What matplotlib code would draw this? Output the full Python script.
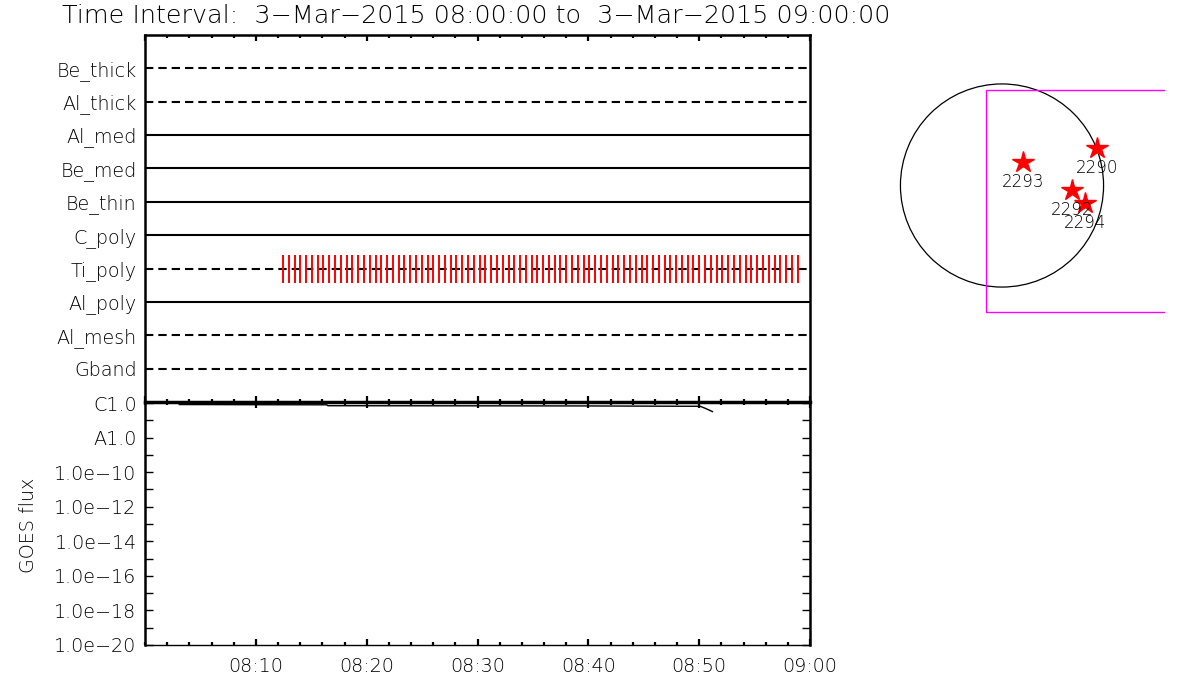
import matplotlib
matplotlib.use("Agg")
import matplotlib.pyplot as plt
from matplotlib.ticker import FixedLocator, MultipleLocator, NullFormatter
from matplotlib.patches import Circle, Rectangle

plt.rcParams['font.family'] = ['DejaVu Sans']
plt.rcParams['lines.scale_dashes'] = False

# ---------------- data ----------------
title = "Time Interval:  3\u2212Mar\u22122015 08:00:00 to  3\u2212Mar\u22122015 09:00:00"

detectors = ["Gband", "Al_mesh", "Al_poly", "Ti_poly", "C_poly",
             "Be_thin", "Be_med", "Al_med", "Al_thick", "Be_thick"]
dashed = [True, True, False, True, False, False, False, False, True, True]

# Ti_poly exposure times (seconds after 08:00)
ti_poly_times_s = [747, 778, 810, 841, 872, 904, 935, 966, 997, 1029,
                   1060, 1091, 1123, 1154, 1185, 1217, 1248, 1279, 1310, 1342,
                   1373, 1404, 1436, 1467, 1498, 1530, 1561, 1592, 1623, 1655,
                   1686, 1717, 1749, 1780, 1811, 1843, 1874, 1905, 1936, 1968,
                   1999, 2030, 2062, 2093, 2124, 2156, 2187, 2218, 2249, 2281,
                   2312, 2343, 2375, 2406, 2437, 2469, 2500, 2531, 2562, 2594,
                   2625, 2656, 2688, 2719, 2750, 2782, 2813, 2844, 2875, 2907,
                   2938, 2969, 3001, 3032, 3063, 3095, 3126, 3157, 3188, 3220,
                   3251, 3282, 3314, 3345, 3376, 3408, 3439, 3470, 3501, 3533]

goes_t_min = [0.0, 3.0, 3.1, 10.0, 16.4, 16.5, 30.0, 40.0, 46.0, 50.1, 50.6, 51.2]
goes_flux = [1.05e-6, 1.05e-6, 8.2e-7, 8.0e-7, 7.9e-7, 7.0e-7, 6.9e-7, 6.8e-7,
             6.6e-7, 6.5e-7, 4.8e-7, 3.2e-7]

goes_ticks = [1e-6, 1e-8, 1e-10, 1e-12, 1e-14, 1e-16, 1e-18, 1e-20]
goes_ticklabels = ["C1.0", "A1.0", "1.0e\u221210", "1.0e\u221212", "1.0e\u221214",
                   "1.0e\u221216", "1.0e\u221218", "1.0e\u221220"]
goes_minor = [1e-7, 1e-9, 1e-11, 1e-13, 1e-15, 1e-17, 1e-19]

time_ticks = [10, 20, 30, 40, 50, 60]
time_labels = ["08:10", "08:20", "08:30", "08:40", "08:50", "09:00"]

# active regions (arcsec)
ar_names = ["2290", "2293", "2292", "2294"]
ar_x = [912, 202, 672, 797]
ar_y = [360, 226, -43, -168]
sun_radius = 975
fov_x0, fov_y0, fov_y1 = -154, -1214, 917

# ---------------- figure ----------------
W, H = 1200, 700
fig = plt.figure(figsize=(12, 7), dpi=100)

def px_axes(x0, y0, x1, y1):
    return fig.add_axes([x0 / W, 1 - y1 / H, (x1 - x0) / W, (y1 - y0) / H])

fs = 13.8
fw = 'light'

fig.text(62 / W, 1 - 16 / H, title, fontsize=18.3, ha='left', va='center',
         fontweight=fw, color='black')

# upper panel
ax1 = px_axes(145, 35, 810, 402)
ax1.set_xlim(0, 60)
ax1.set_ylim(0, 11)
for i, (name, d) in enumerate(zip(detectors, dashed)):
    y = i + 1
    if d:
        ax1.plot([0, 60], [y, y], color='black', lw=1.5, dashes=(6, 3.6))
    else:
        ax1.plot([0, 60], [y, y], color='black', lw=1.5)
ti_y = detectors.index("Ti_poly") + 1
ax1.vlines([t / 60 for t in ti_poly_times_s], ti_y - 0.42, ti_y + 0.42,
           color='red', lw=1.4)
ax1.set_yticks(range(1, len(detectors) + 1))
ax1.set_yticklabels(detectors, fontsize=fs, fontweight=fw)
ax1.tick_params(axis='y', length=0, pad=6)
ax1.xaxis.set_major_locator(MultipleLocator(10))
ax1.xaxis.set_minor_locator(MultipleLocator(2))
ax1.tick_params(axis='x', which='both', direction='in', top=True, bottom=True,
                labelbottom=False, width=1.6)
ax1.tick_params(axis='x', which='major', length=4.5)
ax1.tick_params(axis='x', which='minor', length=2.5)
for s in ax1.spines.values():
    s.set_linewidth(1.8)

# lower panel
ax2 = px_axes(145, 402, 810, 645)
ax2.set_xlim(0, 60)
ax2.set_yscale('log')
ax2.set_ylim(1e-20, 1.15e-6)
ax2.plot(goes_t_min, goes_flux, color='black', lw=1.0)
ax2.yaxis.set_major_locator(FixedLocator(goes_ticks))
ax2.yaxis.set_minor_locator(FixedLocator(goes_minor))
ax2.set_yticklabels(goes_ticklabels, fontsize=fs, fontweight=fw)
ax2.yaxis.set_minor_formatter(NullFormatter())
ax2.tick_params(axis='y', which='both', direction='in', left=True, right=True,
                length=6, width=1.0, pad=6)
ax2.set_xticks(time_ticks)
ax2.set_xticklabels(time_labels, fontsize=fs, fontweight=fw)
ax2.xaxis.set_minor_locator(MultipleLocator(2))
ax2.tick_params(axis='x', which='both', direction='in', top=True, bottom=True,
                width=1.6, pad=9)
ax2.tick_params(axis='x', which='major', length=4.5)
ax2.tick_params(axis='x', which='minor', length=2.5)
for s in ax2.spines.values():
    s.set_linewidth(1.0)
ax2.spines['top'].set_linewidth(2.5)
ax2.spines['left'].set_linewidth(1.8)
ax2.spines['right'].set_linewidth(1.8)
fig.text(29 / W, 1 - 525 / H, "GOES flux", rotation=90, fontsize=fs,
         fontweight=fw, ha='center', va='center')

# solar disk panel
scale = 9.6
cx, cy = 1002, 185.5
ax3 = px_axes(880, 70, 1165, 320)
ax3.set_xlim((880 - cx) * scale, (1165 - cx) * scale)
ax3.set_ylim((cy - 320) * scale, (cy - 70) * scale)
ax3.axis('off')
ax3.add_patch(Circle((0, 0), sun_radius, fill=False, color='black', lw=0.9))
ax3.add_patch(Rectangle((fov_x0, fov_y0), 5000, fov_y1 - fov_y0, fill=False,
                        edgecolor='magenta', lw=1.0, clip_on=True))
ax3.plot(ar_x, ar_y, linestyle='none', marker='*', ms=16, color='red',
         markeredgecolor='red')
for n, x, y in zip(ar_names, ar_x, ar_y):
    ax3.text(x, y - 195, n, fontsize=12, ha='center', va='center',
             fontweight=fw)

fig.savefig("out.png", dpi=100)
